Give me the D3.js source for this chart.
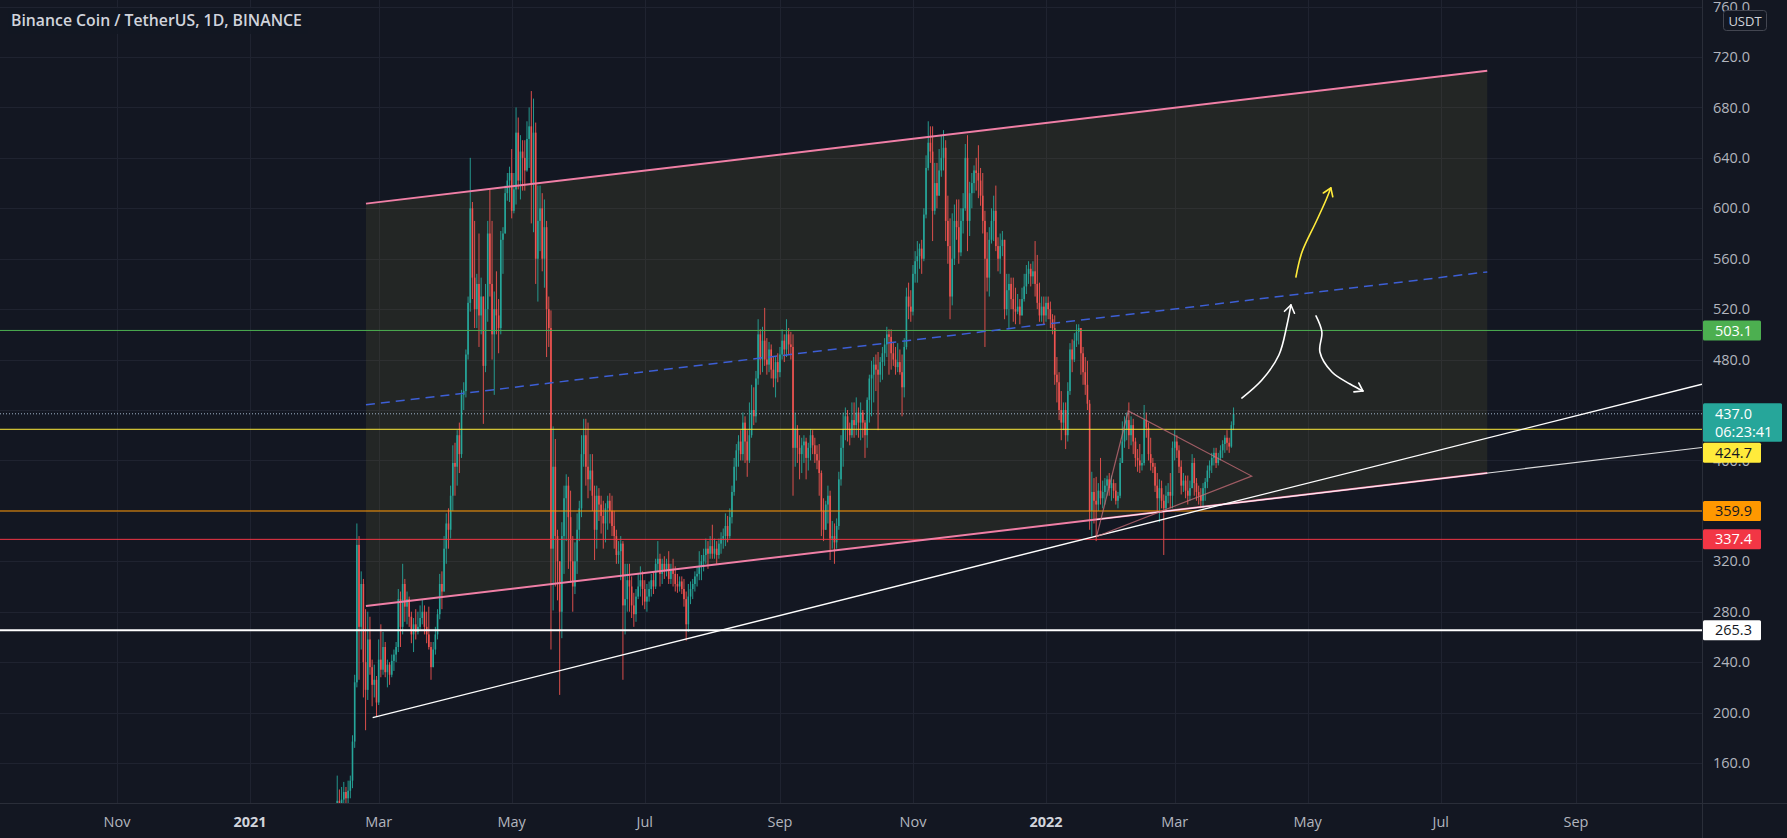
<!DOCTYPE html>
<html><head><meta charset="utf-8">
<script src="https://cdn.jsdelivr.net/npm/d3@7"></script>
<style>html,body{margin:0;padding:0;background:#131722;overflow:hidden}svg{display:block}</style>
</head><body>
<svg id="chart" width="1787" height="838"></svg>
<script>
// ---------------- DATA ----------------
const title = "Binance Coin / TetherUS, 1D, BINANCE";
const startDate = "2021-02-10";   // first daily bar
const firstOpen = 117;            // open of first bar; afterwards open = previous close
const closes = [
 130,128,131,137,132,138,146,177,224,333,268,302,240,218,258,236,222,226,208,
 242,234,252,232,238,230,241,246,252,290,268,302,284,290,276,262,270,264,268,275,280,268,262,252,236,250,262,278,302,296,330,
 350,345,372,398,395,420,405,452,455,484,525,600,545,520,540,515,530,475,520,580,540,500,520,515,505,575,580,612,622,628,
 598,615,660,622,645,640,630,655,665,620,660,560,590,600,560,585,520,505,330,395,340,320,280,340,370,380,355,320,300,320,345,
 362,405,420,395,385,392,372,345,372,365,356,350,362,368,360,348,340,325,328,334,285,290,305,300,285,278,292,300,305,298,
 288,292,298,305,300,318,322,310,318,312,318,306,314,310,302,300,304,298,290,270,292,298,302,308,310,316,320,325,330,326,332,
 326,330,325,334,338,340,348,340,355,375,395,408,415,405,430,415,400,420,440,435,465,500,480,495,480,476,488,472,465,478,470,
 484,495,488,500,492,490,410,425,410,405,412,415,402,410,420,412,405,400,390,360,345,365,372,338,340,335,348,385,410,425,
 435,425,420,432,428,438,430,438,430,420,448,465,468,476,472,468,478,485,492,500,498,485,480,474,478,470,458,490,530,522,518,
 548,558,562,568,560,595,632,652,645,598,620,610,630,640,648,590,570,530,560,590,585,565,590,600,640,590,612,620,630,628,
 622,610,590,560,545,575,590,598,570,560,570,575,520,535,540,528,520,518,522,515,528,538,548,552,546,550,540,525,515,522,515,
 525,520,512,505,468,462,440,430,440,420,455,488,480,495,502,505,485,470,460,445,360,375,368,365,376,370,375,380,385,378,382,
 376,368,372,398,415,425,432,420,428,415,402,400,396,398,432,426,405,398,395,380,370,378,368,362,372,375,372,410,
 415,408,395,380,384,376,372,378,398,382,375,372,368,378,383,392,396,402,406,398,402,408,413,418,414,411,428,437
];
const highs = [
 150,139,141,145,141,146,150,182,230,350,340,312,306,282,280,276,242,238,229,
 258,270,264,256,242,240,246,250,256,298,296,318,306,296,292,280,275,282,280,285,290,285,280,284,256,256,268,282,310,312,340,
 358,362,380,412,414,424,430,456,462,488,530,640,605,590,548,580,545,525,540,590,615,590,534,550,528,582,585,618,628,633,
 647,628,680,672,658,654,654,669,680,693,687,668,618,618,612,607,590,530,519,427,417,345,314,351,380,389,387,376,340,335,358,
 368,420,433,433,430,405,405,380,380,378,372,368,366,372,374,372,360,345,336,340,336,318,318,318,308,295,298,310,316,312,
 305,302,304,310,312,322,336,326,322,324,322,328,318,322,316,310,308,308,306,296,302,304,306,312,316,328,325,330,338,336,340,
 349,338,336,338,343,346,358,356,362,380,402,413,420,424,438,435,424,446,460,458,471,512,504,506,521,497,494,492,482,482,485,
 490,504,500,512,505,502,500,438,428,420,418,420,418,414,425,424,418,412,413,392,370,368,380,376,352,350,354,391,420,438,
 442,440,430,446,446,450,442,446,440,432,450,468,479,482,484,486,482,490,497,506,504,504,494,490,493,488,484,497,537,541,535,
 555,566,574,572,575,600,642,669,665,665,636,636,647,658,662,654,610,592,596,603,607,607,600,612,651,658,621,628,634,640,
 650,632,628,598,581,585,600,610,618,577,580,582,575,548,548,545,545,537,532,528,537,548,555,558,556,558,574,563,541,530,530,
 530,530,526,516,515,482,470,455,446,446,462,493,496,501,508,508,505,490,482,479,448,391,386,387,382,402,384,386,388,390,388,
 385,382,375,402,431,435,438,446,435,433,418,409,413,405,444,438,430,418,402,398,390,385,384,373,380,382,390,415,
 424,420,412,400,390,388,388,384,405,402,386,380,378,382,386,396,400,406,410,410,406,412,416,420,424,418,431,442
];
const lows = [
 112,120,124,128,126,124,132,140,172,220,226,250,212,186,210,230,205,212,197,
 206,228,230,228,220,222,228,233,240,248,252,262,272,270,268,255,248,258,262,266,270,262,255,250,226,240,246,258,274,282,296,
 318,330,338,360,372,380,390,402,440,450,480,518,528,505,505,490,500,429,470,510,530,480,452,500,485,500,548,585,606,605,
 592,596,603,615,607,614,614,629,632,588,581,540,526,566,550,537,482,490,250,281,300,289,214,259,310,336,314,303,280,294,310,
 336,355,395,380,370,376,360,321,330,352,342,330,335,345,350,340,330,318,318,305,226,262,280,280,275,268,272,290,292,285,
 282,280,288,292,294,298,312,300,302,306,308,302,302,300,296,295,296,294,284,257,264,286,290,296,300,305,305,312,318,314,322,
 322,322,318,322,326,330,332,335,338,350,372,384,395,400,400,398,387,398,418,428,430,460,468,470,475,468,470,465,458,450,462,
 466,480,478,482,484,480,372,395,398,385,390,398,385,392,400,405,398,393,372,340,336,345,350,321,330,318,330,345,380,395,
 416,415,412,418,418,420,418,416,418,402,410,430,435,446,455,424,462,464,475,482,468,472,475,468,470,468,435,450,488,512,510,
 515,541,541,552,548,558,592,630,636,574,595,600,610,625,630,574,556,512,523,555,575,556,562,580,598,566,578,600,612,614,
 608,602,580,490,534,530,572,574,566,550,548,562,512,515,504,520,510,508,516,508,515,526,532,540,538,540,530,520,510,510,508,
 510,512,505,500,460,446,432,416,424,409,415,452,470,478,490,492,468,460,452,440,345,340,350,336,360,365,362,365,372,372,368,
 370,365,362,370,398,410,416,409,412,405,395,391,390,392,396,418,400,392,390,375,360,351,362,325,360,366,362,362,
 400,402,390,373,375,370,365,368,378,372,368,365,362,362,368,378,386,390,396,394,396,400,402,406,408,406,410,424
];
const priceTicks = [160,200,240,280,320,360,400,440,480,520,560,600,640,680,720,760];
const timeTicks = [
 {date:"2020-11-01", label:"Nov", year:false},
 {date:"2021-01-01", label:"2021", year:true},
 {date:"2021-03-01", label:"Mar", year:false},
 {date:"2021-05-01", label:"May", year:false},
 {date:"2021-07-01", label:"Jul", year:false},
 {date:"2021-09-01", label:"Sep", year:false},
 {date:"2021-11-01", label:"Nov", year:false},
 {date:"2022-01-01", label:"2022", year:true},
 {date:"2022-03-01", label:"Mar", year:false},
 {date:"2022-05-01", label:"May", year:false},
 {date:"2022-07-01", label:"Jul", year:false},
 {date:"2022-09-01", label:"Sep", year:false}
];
// horizontal levels drawn by the author
const levelPrices = [503.1, 424.7, 359.9, 337.4, 265.3];
const levelColors = ["#4caf50", "#ffeb3b", "#ff9800", "#f23645", "#ffffff"];
const levelTextColors = ["#ffffff", "#131722", "#131722", "#ffffff", "#131722"];
const levelWidths = [1, 1, 1, 1, 2];
const lastPrice = 437.0;
const countdown = "06:23:41";
// parallel channel [date, price]
const channelUpper = [["2021-02-23T04:00Z", 603.7], ["2022-07-22T08:00Z", 709.1]];
const channelLower = [["2021-02-23T04:00Z", 284.5], ["2022-07-22T08:00Z", 390.0]];
// trend lines (rays extended to the right)
const trendWhite = [["2021-02-26T06:00Z", 196.0], ["2022-04-04T12:00Z", 370.5]];
const trendWhite2 = [["2022-01-24T05:00Z", 353.2], ["2022-07-22T08:00Z", 390.0]];
// triangle
const triangle = [["2022-01-24T05:00Z", 339.7], ["2022-02-07T17:00Z", 439.2], ["2022-04-05T07:00Z", 387.6]];
// hand drawn arrows  [days since 2021-01-01, price]
const arrowUpWhite = [[454.8,449.5],[464.0,463.8],[471.8,483.6],[475.5,507.4],[477.3,523.3]];
const arrowDownWhite = [[488.8,514.6],[491.5,501.9],[490.6,486.0],[496.1,470.1],[504.4,460.6],[510.3,455.1]];
const arrowUpYellow = [[479.6,545.5],[482.4,565.3],[488.8,589.1],[493.4,606.6],[495.6,616.1]];

// ---------------- LAYOUT ----------------
const W = 1787, H = 838, plotR = 1702, plotB = 803;
const bg = "#131722", gridC = "#1f2330", axisText = "#b2b5be", borderC = "#2a2e39";
const upC = "#26a69a", downC = "#ef5350";
const FONT = "'Open Sans', 'Noto Sans', sans-serif";

const svg = d3.select("#chart");
const x = d3.scaleUtc()
  .domain([new Date("2021-01-01T00:00:00Z"), new Date("2022-01-01T00:00:00Z")])
  .range([250, 1046]);
const y = d3.scaleLinear().domain([160, 720]).range([763, 57]);
const base = new Date("2021-01-01T00:00:00Z");
const dayDate = d => new Date(base.getTime() + d * 86400000);
const P = p => [x(new Date(p[0])), y(p[1])];
const A = p => [x(dayDate(p[0])), y(p[1])];

svg.append("rect").attr("width", W).attr("height", H).attr("fill", bg);

const defs = svg.append("defs");
defs.append("clipPath").attr("id", "plot").append("rect").attr("x", 0).attr("y", 0).attr("width", plotR).attr("height", plotB);

const plot = svg.append("g").attr("clip-path", "url(#plot)");

// grid
plot.append("g").selectAll("line").data(priceTicks).join("line")
  .attr("x1", 0).attr("x2", plotR)
  .attr("y1", d => Math.round(y(d)) + 0.5).attr("y2", d => Math.round(y(d)) + 0.5)
  .attr("stroke", gridC).attr("stroke-width", 1);
plot.append("g").selectAll("line").data(timeTicks).join("line")
  .attr("y1", 0).attr("y2", plotB)
  .attr("x1", d => Math.round(x(new Date(d.date + "T00:00:00Z"))) + 0.5)
  .attr("x2", d => Math.round(x(new Date(d.date + "T00:00:00Z"))) + 0.5)
  .attr("stroke", gridC).attr("stroke-width", 1);

// title backdrop
svg.append("rect").attr("x", 8).attr("y", 8).attr("width", 300).attr("height", 26).attr("fill", bg).attr("opacity", 0.85);

// channel fill
const cu = channelUpper.map(P), cl = channelLower.map(P);
plot.append("path")
  .attr("d", d3.line()([cu[0], cu[1], cl[1], cl[0]]) + "Z")
  .attr("fill", "rgba(150,140,60,0.13)");

// candles
const t0 = new Date(startDate + "T00:00:00Z");
const bars = closes.map((c, i) => {
  const o = i ? closes[i - 1] : firstOpen;
  return {date: d3.utcDay.offset(t0, i), o, c, h: Math.max(highs[i], o, c), l: Math.min(lows[i], o, c)};
});
const cg = plot.append("g");
cg.selectAll("line").data(bars).join("line")
  .attr("x1", d => x(d.date)).attr("x2", d => x(d.date))
  .attr("y1", d => y(d.h)).attr("y2", d => y(d.l))
  .attr("stroke", d => d.c >= d.o ? upC : downC).attr("stroke-width", 0.9);
cg.selectAll("rect").data(bars).join("rect")
  .attr("x", d => x(d.date) - 0.8).attr("width", 1.6)
  .attr("y", d => y(Math.max(d.o, d.c)))
  .attr("height", d => Math.max(1, Math.abs(y(d.o) - y(d.c))))
  .attr("fill", d => d.c >= d.o ? upC : downC);

// horizontal levels
plot.append("g").selectAll("line").data(levelPrices).join("line")
  .attr("x1", 0).attr("x2", plotR)
  .attr("y1", d => y(d)).attr("y2", d => y(d))
  .attr("stroke", (d, i) => levelColors[i]).attr("stroke-width", (d, i) => levelWidths[i]);

// last price dotted line
plot.append("line").attr("x1", 0).attr("x2", plotR)
  .attr("y1", y(lastPrice)).attr("y2", y(lastPrice))
  .attr("stroke", "#9fb3c8").attr("stroke-width", 1).attr("stroke-dasharray", "1,2");

// channel lines
const pink = "#f07fa6";
plot.append("line").attr("x1", cu[0][0]).attr("y1", cu[0][1]).attr("x2", cu[1][0]).attr("y2", cu[1][1])
  .attr("stroke", pink).attr("stroke-width", 2);
plot.append("line").attr("x1", cl[0][0]).attr("y1", cl[0][1]).attr("x2", cl[1][0]).attr("y2", cl[1][1])
  .attr("stroke", pink).attr("stroke-width", 2);
plot.append("line")
  .attr("x1", (cu[0][0] + cl[0][0]) / 2).attr("y1", (cu[0][1] + cl[0][1]) / 2)
  .attr("x2", (cu[1][0] + cl[1][0]) / 2).attr("y2", (cu[1][1] + cl[1][1]) / 2)
  .attr("stroke", "#3d5fd6").attr("stroke-width", 1.5).attr("stroke-dasharray", "9,6");

// rays extended to right
function ray(pts, color, w) {
  const a = P(pts[0]), b = P(pts[1]);
  const k = (b[1] - a[1]) / (b[0] - a[0]);
  plot.append("line").attr("x1", a[0]).attr("y1", a[1])
    .attr("x2", plotR).attr("y2", a[1] + k * (plotR - a[0]))
    .attr("stroke", color).attr("stroke-width", w);
}
ray(trendWhite, "#ffffff", 1.3);
ray(trendWhite2, "rgba(255,255,255,0.85)", 1.1);

// triangle
plot.append("path").attr("d", d3.line()(triangle.map(P)) + "Z")
  .attr("fill", "none").attr("stroke", "rgba(200,110,120,0.75)").attr("stroke-width", 1.2);

// arrows
const curve = d3.line().curve(d3.curveCatmullRom.alpha(0.5));
function arrow(pts, color) {
  const px = pts.map(A);
  plot.append("path").attr("d", curve(px)).attr("fill", "none")
    .attr("stroke", color).attr("stroke-width", 1.6).attr("stroke-linecap", "round");
  const tip = px[px.length - 1], prev = px[px.length - 2];
  const ang = Math.atan2(tip[1] - prev[1], tip[0] - prev[0]);
  const L = 9;
  [-0.6, 0.6].forEach(da => {
    plot.append("line").attr("x1", tip[0]).attr("y1", tip[1])
      .attr("x2", tip[0] - L * Math.cos(ang + da)).attr("y2", tip[1] - L * Math.sin(ang + da))
      .attr("stroke", color).attr("stroke-width", 1.6).attr("stroke-linecap", "round");
  });
}
arrow(arrowUpWhite, "#ffffff");
arrow(arrowDownWhite, "#ffffff");
arrow(arrowUpYellow, "#ffeb3b");

// title
svg.append("text").attr("x", 11).attr("y", 26).text(title)
  .attr("fill", "#d1d4dc").attr("font-family", FONT).attr("font-weight", 600).attr("font-size", 15.8);

// axes borders
svg.append("rect").attr("x", plotR + 1).attr("y", 0).attr("width", W - plotR).attr("height", H).attr("fill", bg);
svg.append("rect").attr("x", 0).attr("y", plotB + 1).attr("width", W).attr("height", H - plotB).attr("fill", bg);
svg.append("line").attr("x1", plotR + 0.5).attr("x2", plotR + 0.5).attr("y1", 0).attr("y2", H).attr("stroke", borderC);
svg.append("line").attr("x1", 0).attr("x2", W).attr("y1", plotB + 0.5).attr("y2", plotB + 0.5).attr("stroke", borderC);

// label positions on the price axis (tags)
const lp = y(lastPrice);
const tagY = levelPrices.map(p => p === 424.7 ? lp + 39 : y(p));   // 424.7 pushed below the last-price tag
const tagBoxes = tagY.map(c => [c - 10, c + 10]).concat([[lp - 10.5, lp + 28]]);
const covered = v => tagBoxes.some(b => y(v) - 6 > b[0] && y(v) + 6 < b[1]);

// price axis labels (those fully hidden by a tag are not drawn)
svg.append("g").selectAll("text").data(priceTicks.filter(v => !covered(v))).join("text")
  .attr("x", 1713).attr("y", d => y(d)).attr("dy", "0.35em")
  .text(d => d.toFixed(1)).attr("fill", axisText)
  .attr("font-family", FONT).attr("font-size", 14.5);

// time axis labels
svg.append("g").selectAll("text").data(timeTicks).join("text")
  .attr("x", d => x(new Date(d.date + "T00:00:00Z"))).attr("y", 822).attr("dy", "0.35em")
  .attr("text-anchor", "middle").text(d => d.label)
  .attr("fill", d => d.year ? "#d1d4dc" : axisText)
  .attr("font-weight", d => d.year ? 700 : 400)
  .attr("font-family", FONT).attr("font-size", 14.5);

// price tags on axis
function tag(cy, text, fill, color, w, h) {
  svg.append("rect").attr("x", plotR + 1).attr("y", cy - h / 2).attr("width", w).attr("height", h)
    .attr("rx", 1.5).attr("fill", fill);
  svg.append("text").attr("x", 1715).attr("y", cy).attr("dy", "0.35em").text(text)
    .attr("fill", color).attr("font-family", FONT).attr("font-size", 14.5);
}
levelPrices.forEach((p, i) => tag(tagY[i], p.toFixed(1), levelColors[i], levelTextColors[i], 58, 20));
// last price tag with countdown
svg.append("rect").attr("x", plotR + 1).attr("y", lp - 10.5).attr("width", 79).attr("height", 38.5)
  .attr("rx", 1.5).attr("fill", upC);
svg.append("text").attr("x", 1715).attr("y", lp).attr("dy", "0.35em").text(lastPrice.toFixed(1))
  .attr("fill", "#ffffff").attr("font-family", FONT).attr("font-size", 14.5);
svg.append("text").attr("x", 1715).attr("y", lp + 18).attr("dy", "0.35em").text(countdown)
  .attr("fill", "#ffffff").attr("font-family", FONT).attr("font-size", 14.5);

// currency badge
svg.append("rect").attr("x", 1723.5).attr("y", 10.5).attr("width", 43).attr("height", 20).attr("rx", 3)
  .attr("fill", bg).attr("stroke", "#434651");
svg.append("text").attr("x", 1745).attr("y", 21).attr("dy", "0.35em").attr("text-anchor", "middle")
  .text("USDT").attr("fill", "#d1d4dc").attr("font-family", FONT).attr("font-size", 13);
</script>
</body></html>
